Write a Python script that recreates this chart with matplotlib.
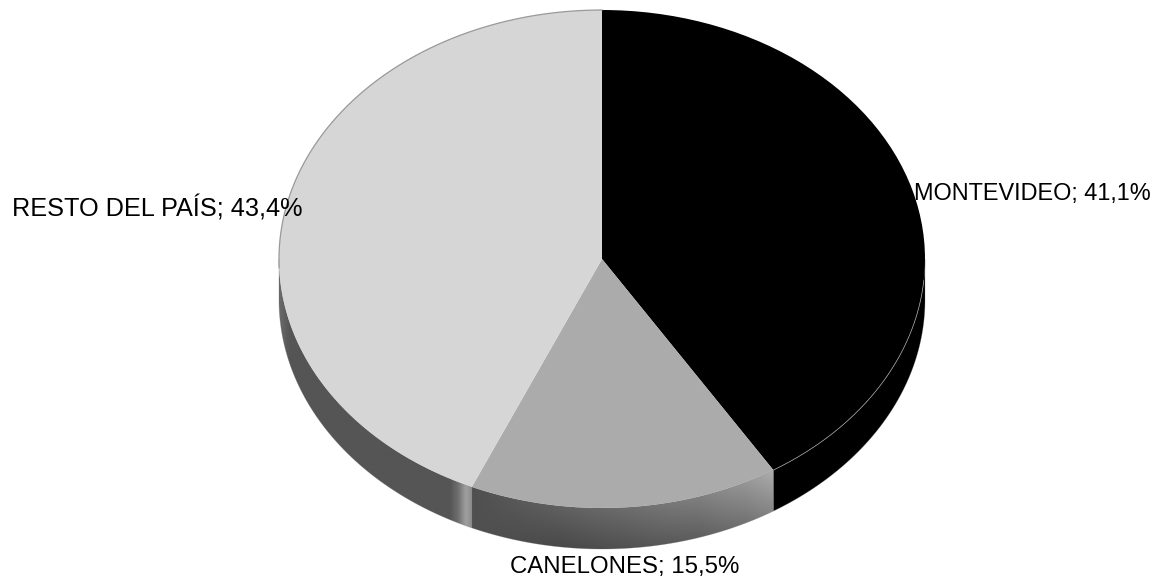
import numpy as np
import matplotlib
matplotlib.use('Agg')
import matplotlib.pyplot as plt
from matplotlib.patches import Polygon

labels = ['MONTEVIDEO', 'CANELONES', 'RESTO DEL PAÍS']
values = [41.1, 15.5, 43.4]
colors = ['#000000', '#ababab', '#d6d6d6']

W, H = 1160, 582
CX, CY = 602, 259
RX, RY = 323, 249
DEPTH = 41 / RY

plt.rcParams['font.family'] = ['Liberation Sans', 'DejaVu Sans']

fig = plt.figure(figsize=(W / 100, H / 100), dpi=100)
ax = fig.add_axes([0, 0, 1, 1])


def wall_polygon(a0, a1):
    # a0, a1 in degrees, clockwise from the top of the pie
    t = np.radians(np.linspace(a0, a1, 200))
    x = np.sin(t)
    y = np.cos(t)
    top = np.column_stack([x, y])
    bottom = np.column_stack([x, y - DEPTH])[::-1]
    return np.vstack([top, bottom])


def draw_wall(a0, a1, shade_func):
    pts = wall_polygon(a0, a1)
    poly = Polygon(pts, closed=True, transform=ax.transData,
                   facecolor='none', edgecolor='none')
    xmin, ymin = pts.min(axis=0)
    xmax, ymax = pts.max(axis=0)
    xx, yy = np.meshgrid(np.linspace(xmin, xmax, 400), np.linspace(ymin, ymax, 200))
    top = -np.sqrt(np.clip(1 - xx ** 2, 0, 1))
    v = np.clip((top - yy) / DEPTH, 0, 1)
    shade = shade_func(xx, v)
    im = ax.imshow(shade, extent=(xmin, xmax, ymin, ymax), origin='lower', cmap='gray',
                   vmin=0, vmax=255, aspect='auto', interpolation='bilinear', zorder=1)
    im.set_clip_path(poly)
    # soft edge so the clipped image is not jagged
    ax.add_patch(Polygon(pts, closed=True, facecolor='none',
                         edgecolor=(0.4, 0.4, 0.4, 0.35), linewidth=0.5, zorder=1.5))


def shade_black(x, v):
    return np.zeros_like(x)


def shade_canelones(x, v):
    px = CX + RX * x
    base = np.interp(px, [473, 500, 620, 700, 745, 773], [80, 86, 108, 128, 150, 172])
    fade = np.interp(px, [473, 560, 773], [0, 24, 38])
    return base - fade * v


def shade_resto(x, v):
    px = CX + RX * x
    return np.interp(px, [280, 290, 450, 458, 466, 472], [105, 85, 85, 110, 160, 140])


angles = np.cumsum([0] + values) * 3.6

ax.pie(values, colors=colors, startangle=90, counterclock=False, radius=1,
       center=(0, 0), frame=True, wedgeprops={'linewidth': 0, 'zorder': 2})

draw_wall(90, angles[1], shade_black)
draw_wall(angles[1], angles[2], shade_canelones)
draw_wall(angles[2], 270, shade_resto)

# thin outlines on the top face
t = np.radians(np.linspace(268, 360, 300))
ax.plot(np.sin(t), np.cos(t), color='#999999', lw=0.9, zorder=3)
t = np.radians(np.linspace(95, angles[1], 200))
ax.plot(np.sin(t), np.cos(t), color='#a0a0a0', lw=0.5, zorder=3)

ax.set_aspect('auto')
ax.set_xlim(-CX / RX, (W - CX) / RX)
ax.set_ylim((CY - H) / RY, CY / RY)
ax.axis('off')

for name, val, px, py, ha, size in [(labels[0], values[0], 914, 200, 'left', 16.9),
                                    (labels[1], values[1], 625, 573, 'center', 17.3),
                                    (labels[2], values[2], 302, 217, 'right', 18.2)]:
    txt = '%s; %s%%' % (name, str(val).replace('.', ','))
    fig.text(px / W, 1 - py / H, txt, fontsize=size, ha=ha, va='baseline', color='black', zorder=5)

fig.savefig('out.png', dpi=100)
